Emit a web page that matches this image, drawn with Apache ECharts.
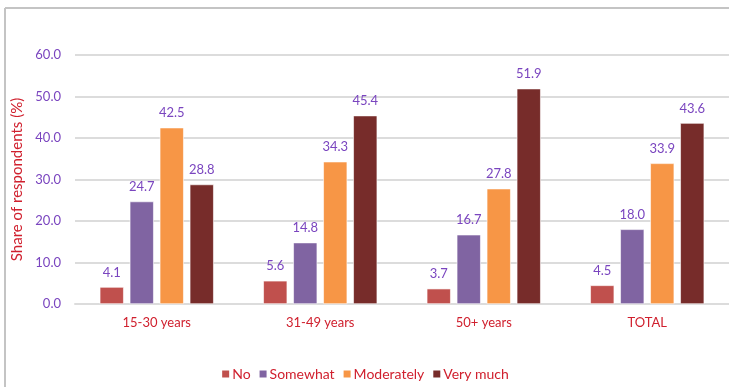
<!DOCTYPE html>
<html><head><meta charset="utf-8">
<script src="https://cdn.jsdelivr.net/npm/echarts@6/dist/echarts.min.js"></script>
<style>html,body{margin:0;padding:0;background:#fff}#c{width:729px;height:387px}</style>
</head><body><div id="c"></div>
<script>
const categories = ['15-30 years', '31-49 years', '50+ years', 'TOTAL'];
const seriesNames = ['No', 'Somewhat', 'Moderately', 'Very much'];
const noVals = [4.1, 5.6, 3.7, 4.5];
const somewhatVals = [24.7, 14.8, 16.7, 18.0];
const moderatelyVals = [42.5, 34.3, 27.8, 33.9];
const veryMuchVals = [28.8, 45.4, 51.9, 43.6];
const colors = ['#c0504d', '#8064a2', '#f79646', '#772c2a'];
const allVals = [noVals, somewhatVals, moderatelyVals, veryMuchVals];
const FONT = 'Lato';
const chart = echarts.init(document.getElementById('c'));
chart.setOption({
  animation: false,
  textStyle: {fontFamily: FONT},
  graphic: [
    {type: 'line', shape: {x1: 5, y1: 8, x2: 729, y2: 8}, style: {stroke: '#c4c4c4', lineWidth: 2}},
    {type: 'line', shape: {x1: 5, y1: 8, x2: 5, y2: 387}, style: {stroke: '#c4c4c4', lineWidth: 2}}
  ],
  grid: {left: 75, right: -2, top: 55, bottom: 83, containLabel: false},
  legend: {
    data: seriesNames, top: 362, left: 'center', itemWidth: 9, itemHeight: 9, itemGap: 7,
    icon: 'rect', textStyle: {color: '#d0202e', fontSize: 14, fontFamily: FONT, padding: [0, 0, 0, -3]}
  },
  xAxis: {
    type: 'category', data: categories,
    axisLine: {show: true, lineStyle: {color: '#dcdcdc', width: 2}},
    axisTick: {show: false},
    axisLabel: {color: '#d0202e', fontSize: 13, margin: 12, fontFamily: FONT}
  },
  yAxis: {
    type: 'value', min: 0, max: 60, interval: 10,
    name: 'Share of respondents (%)', nameLocation: 'middle', nameGap: 44,
    nameTextStyle: {color: '#d0202e', fontSize: 15, fontFamily: FONT},
    axisLabel: {color: '#7a45bf', fontSize: 13, margin: 14, fontFamily: FONT, formatter: v => v.toFixed(1)},
    splitLine: {lineStyle: {color: '#dcdcdc', width: 2}},
    axisLine: {show: false}, axisTick: {show: false}
  },
  series: seriesNames.map((n, i) => ({
    name: n, type: 'bar', data: allVals[i], barWidth: 24, barGap: '25%',
    itemStyle: {color: colors[i], borderColor: '#ffffff', borderWidth: 0.6},
    label: {show: true, position: 'top', distance: 8, color: '#7a45bf', fontSize: 13, fontFamily: FONT,
      formatter: p => p.value.toFixed(1)}
  }))
});
</script></body></html>
